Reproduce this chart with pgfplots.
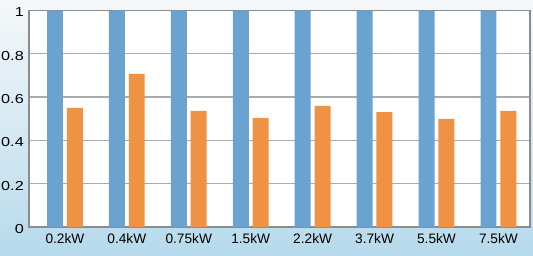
\documentclass[border=0pt]{standalone}
\usepackage{pgfplots}
\pgfplotsset{compat=1.18}
\usepackage{fontspec}
\setmainfont{Liberation Sans}
\newfontfamily\yfont[FakeStretch=1.25]{Liberation Sans}
\definecolor{barblue}{HTML}{6AA3D0}
\definecolor{barorange}{HTML}{F09244}
\definecolor{gridgray}{HTML}{ABABAB}
\definecolor{axisgray}{HTML}{8C8C8C}
\definecolor{bgtop}{HTML}{F5F8FA}
\definecolor{bgmid}{HTML}{E2EEF5}
\definecolor{bgbot}{HTML}{B6DAEC}
\begin{document}
\begin{tikzpicture}[x=1pt,y=1pt]
\shade[top color=bgtop, middle color=bgmid, bottom color=bgbot] (0,0) rectangle (533,255);
\useasboundingbox (0,0) rectangle (533,255);
\begin{axis}[
  at={(29pt,28pt)}, anchor=south west,
  scale only axis, width=501pt, height=216.5pt,
  axis background/.style={fill=white},
  ymin=0, ymax=1, xmin=-0.58, xmax=7.51,
  xtick={0,1,2,3,4,5,6,7},
  xticklabels={0.2kW,0.4kW,0.75kW,1.5kW,2.2kW,3.7kW,5.5kW,7.5kW},
  ytick={0,0.2,0.4,0.6,0.8,1},
  yticklabels={0,0.2,0.4,0.6,0.8,1},
  major tick length=0pt,
  ymajorgrids, grid style={gridgray, line width=1.3pt},
  axis line style={axisgray, line width=1.2pt},
  tick label style={inner sep=0pt},
  xticklabel style={font=\fontsize{13.7}{16}\selectfont, yshift=-6pt},
  yticklabel style={font=\yfont\fontsize{13}{15}\selectfont, xshift=-5pt, yshift=-2pt},
  ybar, bar width=0.258,
]
\addplot[fill=barblue, draw=none, bar shift=-0.16] coordinates {(0,1) (1,1) (2,1) (3,1) (4,1) (5,1) (6,1) (7,1)};
\addplot[fill=barorange, draw=none, bar shift=0.16] coordinates {(0,0.55) (1,0.707) (2,0.536) (3,0.503) (4,0.559) (5,0.531) (6,0.499) (7,0.536)};
\end{axis}
\end{tikzpicture}
\end{document}
